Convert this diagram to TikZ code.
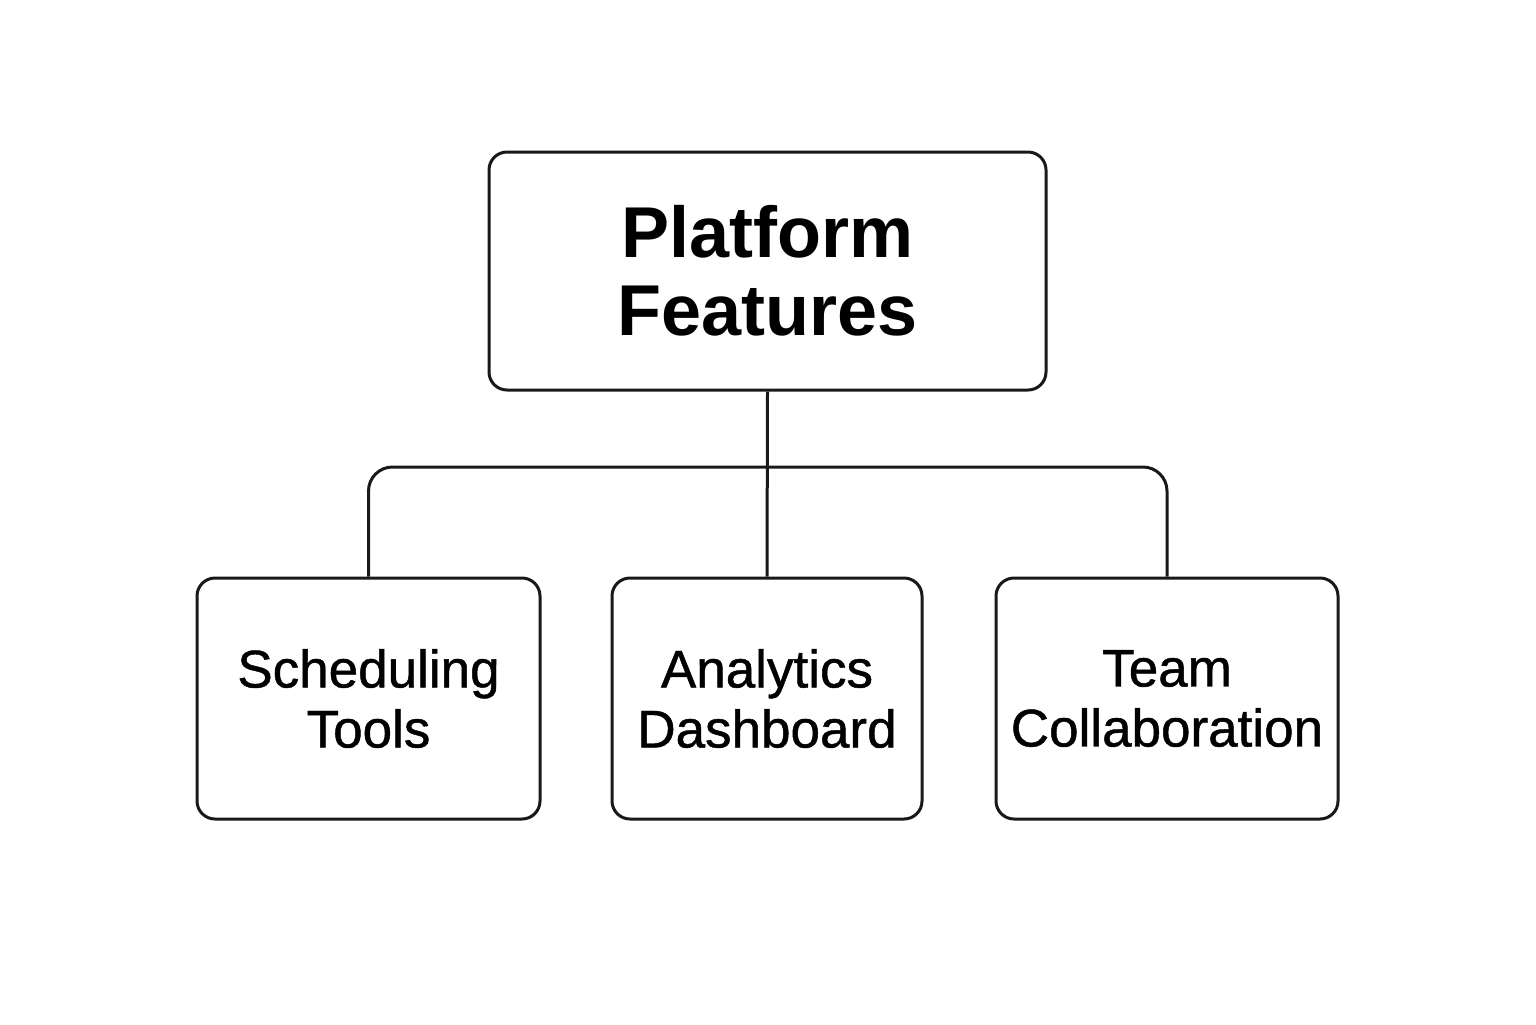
\documentclass[tikz,border=0pt]{standalone}
\usepackage{fontspec}
\setmainfont{Liberation Sans}
\newfontfamily\medfont[RawFeature={embolden=0.9}]{Liberation Sans}
\begin{document}
\begin{tikzpicture}[x=0.5pt,y=-0.5pt,
  box/.style={draw=black!90, line width=1.5pt, rounded corners=9pt, inner sep=0pt, align=center},
  topbox/.style={box, minimum width=278.5pt, minimum height=119pt, font=\fontsize{36}{39}\selectfont\bfseries},
  leafbox/.style={box, minimum height=120.5pt, font=\medfont\fontsize{26.5}{30}\selectfont},
  link/.style={draw=black!90, line width=1.5pt}]
\useasboundingbox[fill=white] (0,0) rectangle (1536,1024);
\node[topbox] (top) at (767.5,271) {Platform\\Features};
\node[leafbox, minimum width=171.5pt] (sched) at (368.5,698.5) {Scheduling\\Tools};
\node[leafbox, minimum width=155pt] (ana) at (767,698.5) {Analytics\\Dashboard};
\node[leafbox, minimum width=171pt] (team) at (1167,698.5) {Team\\Collaboration};
\coordinate (j) at (767.5,467);
\draw[link] (top.south) -- (ana.north);
\draw[link, rounded corners=12pt] (sched.north) |- (j) -| (team.north);
\end{tikzpicture}
\end{document}
